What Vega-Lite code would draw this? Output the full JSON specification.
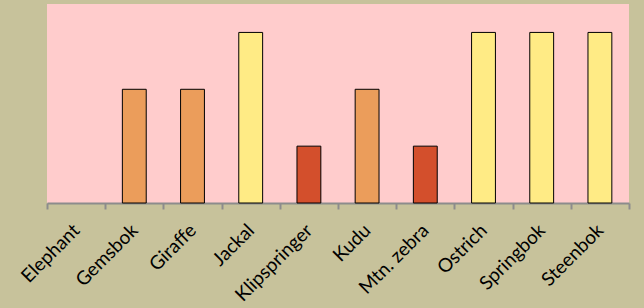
{
  "$schema": "https://vega.github.io/schema/vega-lite/v6.json",
  "width": 582,
  "height": 199,
  "autosize": "none",
  "padding": {"left": 47, "top": 4, "right": 15, "bottom": 105},
  "background": "#C7C29B",
  "view": {"fill": "#FFCCCC", "stroke": null},
  "data": {"values": [
    {"animal": "Elephant", "value": null, "level": "0"},
    {"animal": "Gemsbok", "value": 2, "level": "2"},
    {"animal": "Giraffe", "value": 2, "level": "2"},
    {"animal": "Jackal", "value": 3, "level": "3"},
    {"animal": "Klipspringer", "value": 1, "level": "1"},
    {"animal": "Kudu", "value": 2, "level": "2"},
    {"animal": "Mtn. zebra", "value": 1, "level": "1"},
    {"animal": "Ostrich", "value": 3, "level": "3"},
    {"animal": "Springbok", "value": 3, "level": "3"},
    {"animal": "Steenbok", "value": 3, "level": "3"}
  ]},
  "mark": {"type": "bar", "stroke": "#000000", "strokeWidth": 1, "width": {"band": 0.41}},
  "encoding": {
    "x": {
      "field": "animal", "type": "nominal", "sort": null,
      "scale": {"domain": ["Elephant", "Gemsbok", "Giraffe", "Jackal", "Klipspringer", "Kudu", "Mtn. zebra", "Ostrich", "Springbok", "Steenbok"], "paddingInner": 0, "paddingOuter": 0},
      "axis": {
        "title": null, "labelAngle": -45, "labelAlign": "right", "labelBaseline": "middle",
        "tickBand": "extent", "tickSize": 6, "tickColor": "#8C8C8C", "domainColor": "#8C8C8C",
        "domainWidth": 2, "tickWidth": 2,
        "labelFont": "Lato", "labelFontSize": 19, "labelColor": "#000000", "labelPadding": 18
      }
    },
    "y": {
      "field": "value", "type": "quantitative",
      "scale": {"domain": [0, 3.5], "nice": false},
      "axis": null
    },
    "color": {
      "field": "level", "type": "nominal",
      "scale": {"domain": ["0", "1", "2", "3"], "range": ["#FFCCCC", "#D34F2C", "#EB9D5B", "#FFEB85"]},
      "legend": null
    }
  }
}
